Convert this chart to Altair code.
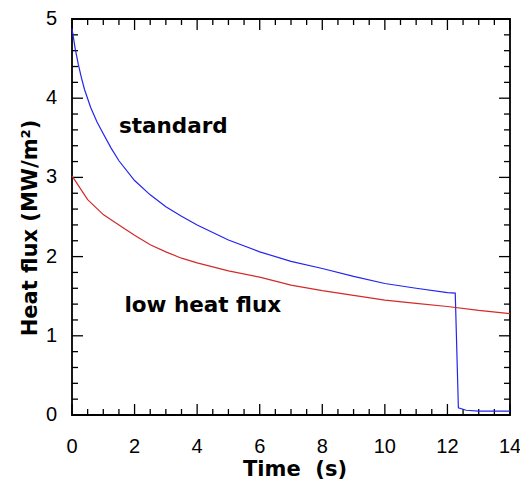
import altair as alt
import pandas as pd

# ---- data ----
std_t = [0, 0.1, 0.2, 0.3, 0.4, 0.6, 0.8, 1, 1.25, 1.5, 2, 2.5, 3, 3.5, 4, 5, 6, 7, 8, 9, 10, 11, 12, 12.25, 12.35, 12.6, 13, 14]
std_q = [4.88, 4.63, 4.43, 4.26, 4.11, 3.88, 3.70, 3.55, 3.37, 3.21, 2.96, 2.78, 2.63, 2.51, 2.40, 2.21, 2.06, 1.94, 1.85, 1.75, 1.66, 1.60, 1.545, 1.54, 0.09, 0.06, 0.05, 0.05]

low_t = [0, 0.5, 1, 1.5, 2, 2.5, 3, 3.5, 4, 5, 6, 7, 8, 9, 10, 11, 12, 13, 14]
low_q = [3.02, 2.72, 2.53, 2.40, 2.27, 2.15, 2.06, 1.98, 1.92, 1.82, 1.74, 1.64, 1.57, 1.51, 1.45, 1.41, 1.37, 1.32, 1.28]

series_names = ["standard", "low heat flux"]
series_colors = ["#2424ee", "#d22a2a"]

x_major = [0, 2, 4, 6, 8, 10, 12, 14]
x_minor = [v / 2 for v in range(0, 29) if v % 4 != 0]
y_major = [0, 1, 2, 3, 4, 5]
y_minor = [v / 5 for v in range(0, 26) if v % 5 != 0]
x_title = "Time\u00a0 (s)"
y_title = "Heat flux (MW/m²)"

ann_text = ["standard", "low heat flux"]
ann_x = [3.24, 4.18]
ann_y = [3.56, 1.30]

X0, X1, Y0, Y1 = 0, 14, 0, 5
W, H = 438, 396
MAJ, MIN = 11, 6  # tick lengths in pixels

rows = []
for t, q in zip(std_t, std_q):
    rows.append({"t": t, "q": q, "series": "standard", "order": len(rows)})
for t, q in zip(low_t, low_q):
    rows.append({"t": t, "q": q, "series": "low heat flux", "order": len(rows)})
df = pd.DataFrame(rows)
ann = pd.DataFrame({"label": ann_text, "t": ann_x, "q": ann_y})

# inward ticks on all four sides, as short segments in data units
px_x = (X1 - X0) / W
px_y = (Y1 - Y0) / H
trows = []
for vals, L in ((x_major, MAJ), (x_minor, MIN)):
    for v in vals:
        for base, sgn in ((Y0, 1), (Y1, -1)):
            tid = len(trows)
            trows.append({"id": tid, "k": 0, "t": v, "q": base})
            trows.append({"id": tid, "k": 1, "t": v, "q": base + sgn * L * px_y})
for vals, L in ((y_major, MAJ), (y_minor, MIN)):
    for v in vals:
        for base, sgn in ((X0, 1), (X1, -1)):
            tid = len(trows)
            trows.append({"id": tid, "k": 0, "t": base, "q": v})
            trows.append({"id": tid, "k": 1, "t": base + sgn * L * px_x, "q": v})
tdf = pd.DataFrame(trows)

xs = alt.Scale(domain=[X0, X1], nice=False, zero=False)
ys = alt.Scale(domain=[Y0, Y1], nice=False, zero=False)

TITLE_FONT = "DejaVu Sans"
LABEL_FONT = "Liberation Sans"

ticks = alt.Chart(tdf).mark_line(color="black", strokeWidth=1.3, strokeCap="butt").encode(
    x=alt.X("t:Q", scale=xs, axis=None),
    y=alt.Y("q:Q", scale=ys, axis=None),
    detail="id:N",
    order="k:Q",
)

lines = alt.Chart(df).mark_line(strokeWidth=1.2).encode(
    x=alt.X("t:Q", scale=xs, axis=None),
    y=alt.Y("q:Q", scale=ys, axis=None),
    color=alt.Color("series:N", scale=alt.Scale(domain=series_names, range=series_colors), legend=None),
    order="order:Q",
)

texts = alt.Chart(ann).mark_text(
    font=TITLE_FONT, fontSize=21.5, fontWeight="bold", align="center", baseline="alphabetic", color="black"
).encode(
    x=alt.X("t:Q", scale=xs, axis=None),
    y=alt.Y("q:Q", scale=ys, axis=None),
    text="label:N",
)

xlab = alt.Chart(pd.DataFrame({"v": x_major, "lab": [str(v) for v in x_major]})).mark_text(
    font=LABEL_FONT, fontSize=20, align="center", baseline="alphabetic", color="black"
).encode(x=alt.X("v:Q", scale=xs, axis=None), y=alt.value(H + 38), text="lab:N")

ylab = alt.Chart(pd.DataFrame({"v": y_major, "lab": [str(v) for v in y_major]})).mark_text(
    font=LABEL_FONT, fontSize=20, align="right", baseline="middle", color="black"
).encode(y=alt.Y("v:Q", scale=ys, axis=None), x=alt.value(-15), text="lab:N")

xtit = alt.Chart(pd.DataFrame({"lab": [x_title]})).mark_text(
    font=TITLE_FONT, fontSize=21, fontWeight="bold", align="center", baseline="alphabetic", color="black"
).encode(x=alt.value(223), y=alt.value(H + 61), text="lab:N")

ytit = alt.Chart(pd.DataFrame({"lab": [y_title]})).mark_text(
    font=TITLE_FONT, fontSize=21, fontWeight="bold", align="center", baseline="alphabetic",
    angle=270, color="black"
).encode(x=alt.value(-35), y=alt.value(209), text="lab:N")

chart = alt.layer(ticks, lines, texts, xlab, ylab, xtit, ytit).properties(
    width=W, height=H,
    autosize=alt.AutoSizeParams(type="none"),
    padding={"left": 64, "top": 11, "right": 10, "bottom": 68},
    background="white",
).configure_view(stroke="black", strokeWidth=1.8)

chart.save("out.html", embed_options={"renderer": "svg", "actions": False})
